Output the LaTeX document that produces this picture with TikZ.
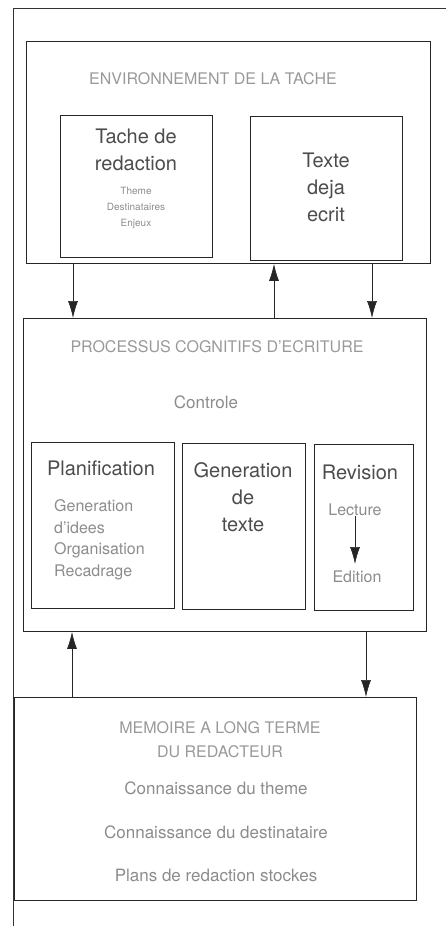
\documentclass[tikz,border=0pt]{standalone}
\usepackage{fontspec}
\setmainfont{TeX Gyre Heros}
\usetikzlibrary{arrows.meta}

\begin{document}
\begin{tikzpicture}
        [x=1pt,y=-1pt,
        box/.style={draw=black!85,line width=0.9pt,anchor=north west,inner sep=0pt},
        arr/.style={draw=black!85,line width=0.7pt,-{Latex[length=17pt,width=10pt]}},
        lbl/.style={inner sep=0pt,align=center,text=black!45},
        ttl/.style={lbl,font=\fontsize{16}{24}\selectfont,text=black!40},
        big/.style={lbl,font=\fontsize{20}{27}\selectfont,text=black!70},
        med/.style={lbl,font=\fontsize{17}{22}\selectfont},
        sml/.style={lbl,font=\fontsize{10}{16}\selectfont}]
        \useasboundingbox (0,0) rectangle (446,926);
        % cadre de la page
        \draw[black!80,line width=0.8pt] (13,926) -- (13,8) -- (446,8);

        % environnement de la tache
        \node[box,minimum width=404pt,minimum height=222pt] (env) at (26,41) {};
        \node[box,minimum width=152pt,minimum height=142pt] (tache) at (60,115) {};
        \node[box,minimum width=152pt,minimum height=144pt] (texte) at (250,116) {};
        \node[ttl] (envttl) at (213,79) {ENVIRONNEMENT DE LA TACHE};
        \node[big] (tachettl) at (136,150) {Tache de\\redaction};
        \node[sml] (tacheitems) at (136,208) {Theme\\Destinataires\\Enjeux};
        \node[big] (textettl) at (326,187) {Texte\\deja\\ecrit};

        % processus
        \node[box,minimum width=403pt,minimum height=313pt] (proc) at (23,318) {};
        \node[box,minimum width=143pt,minimum height=166pt] (plan) at (31,442) {};
        \node[box,minimum width=123pt,minimum height=166pt] (gen) at (182,443) {};
        \node[box,minimum width=99pt,minimum height=166pt] (rev) at (314,444) {};
        \node[ttl] (procttl) at (217,347) {PROCESSUS COGNITIFS D'ECRITURE};
        \node[med] (ctrl) at (206,402) {Controle};
        \node[big] (planttl) at (101,468) {Planification};
        \node[lbl,align=left,anchor=west,font=\fontsize{16}{21.5}\selectfont] (planitems) at (54,540)
            {Generation\\d'idees\\Organisation\\Recadrage};
        \node[big] (genttl) at (243,497) {Generation\\de\\texte};
        \node[big] (revttl) at (360,472) {Revision};
        \node[lbl,font=\fontsize{16}{20}\selectfont] (lect) at (355,510) {Lecture};
        \node[lbl,font=\fontsize{16}{20}\selectfont] (edit) at (357,577) {Edition};
        \draw[arr,shorten >=13pt] (lect) -- (lect |- edit);

        % memoire
        \node[box,minimum width=402pt,minimum height=203pt] (mem) at (14,697) {};
        \node[ttl] (memttl) at (220,740) {MEMOIRE A LONG TERME\\DU REDACTEUR};
        \node[med] (mem1) at (216,788) {Connaissance du theme};
        \node[med] (mem2) at (216,832) {Connaissance du destinataire};
        \node[med] (mem3) at (216,875) {Plans de redaction stockes};

        % fleches
        \coordinate (a1) at (73,0);
        \coordinate (a2) at (274,0);
        \coordinate (a3) at (372,0);
        \coordinate (a4) at (72,0);
        \coordinate (a5) at (366,0);
        \draw[arr] (env.south -| a1) -- (proc.north -| a1);
        \draw[arr] (proc.north -| a2) -- (env.south -| a2);
        \draw[arr] (env.south -| a3) -- (proc.north -| a3);
        \draw[arr] (mem.north -| a4) -- (proc.south -| a4);
        \draw[arr] (proc.south -| a5) -- (mem.north -| a5);
\end{tikzpicture}
\end{document}
